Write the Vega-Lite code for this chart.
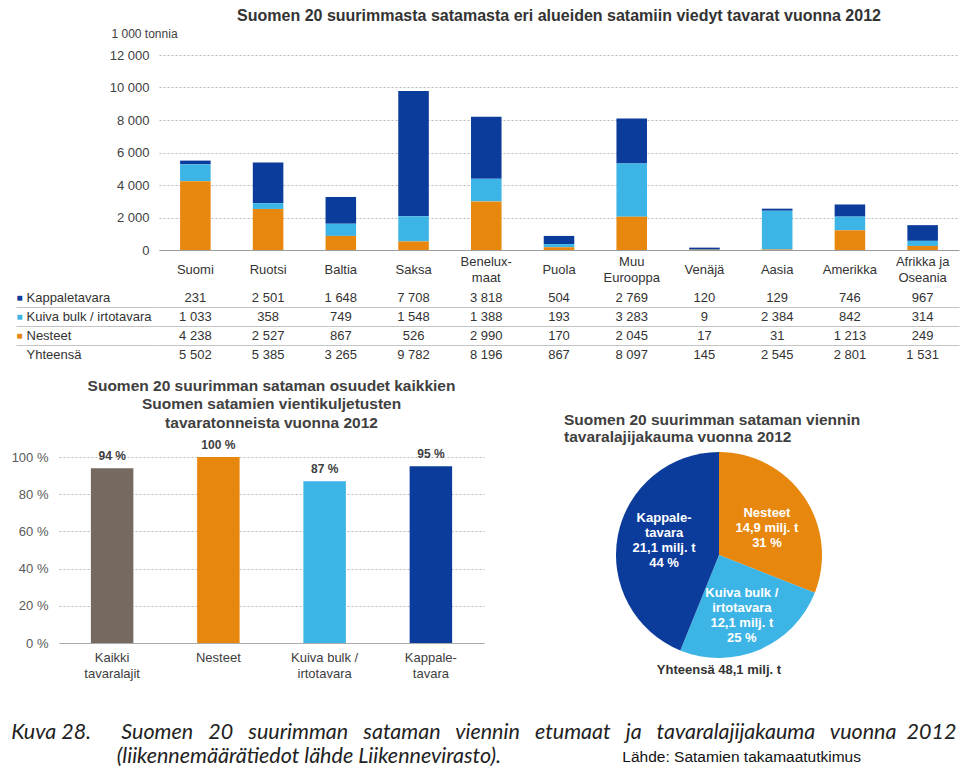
{
  "$schema": "https://vega.github.io/schema/vega-lite/v6.json",
  "background": "white",
  "padding": {"left": 11, "top": 8, "right": 2, "bottom": 2},
  "config": {
    "locale": {"number": {"decimal": ",", "thousands": "\u00a0", "grouping": [3], "currency": ["", "\u00a0€"], "percent": "\u00a0%"}},
    "view": {"stroke": null},
    "font": "Liberation Sans",
    "axis": {"labelColor": "#404040"},
    "title": {"color": "#333333"}
  },
  "datasets": {
    "viennit": [
      {"alue": "Suomi", "laji": "Kappaletavara", "arvo": 231},
      {"alue": "Ruotsi", "laji": "Kappaletavara", "arvo": 2501},
      {"alue": "Baltia", "laji": "Kappaletavara", "arvo": 1648},
      {"alue": "Saksa", "laji": "Kappaletavara", "arvo": 7708},
      {"alue": "Benelux-maat", "laji": "Kappaletavara", "arvo": 3818},
      {"alue": "Puola", "laji": "Kappaletavara", "arvo": 504},
      {"alue": "Muu Eurooppa", "laji": "Kappaletavara", "arvo": 2769},
      {"alue": "Venäjä", "laji": "Kappaletavara", "arvo": 120},
      {"alue": "Aasia", "laji": "Kappaletavara", "arvo": 129},
      {"alue": "Amerikka", "laji": "Kappaletavara", "arvo": 746},
      {"alue": "Afrikka ja Oseania", "laji": "Kappaletavara", "arvo": 967},
      {"alue": "Suomi", "laji": "Kuiva bulk / irtotavara", "arvo": 1033},
      {"alue": "Ruotsi", "laji": "Kuiva bulk / irtotavara", "arvo": 358},
      {"alue": "Baltia", "laji": "Kuiva bulk / irtotavara", "arvo": 749},
      {"alue": "Saksa", "laji": "Kuiva bulk / irtotavara", "arvo": 1548},
      {"alue": "Benelux-maat", "laji": "Kuiva bulk / irtotavara", "arvo": 1388},
      {"alue": "Puola", "laji": "Kuiva bulk / irtotavara", "arvo": 193},
      {"alue": "Muu Eurooppa", "laji": "Kuiva bulk / irtotavara", "arvo": 3283},
      {"alue": "Venäjä", "laji": "Kuiva bulk / irtotavara", "arvo": 9},
      {"alue": "Aasia", "laji": "Kuiva bulk / irtotavara", "arvo": 2384},
      {"alue": "Amerikka", "laji": "Kuiva bulk / irtotavara", "arvo": 842},
      {"alue": "Afrikka ja Oseania", "laji": "Kuiva bulk / irtotavara", "arvo": 314},
      {"alue": "Suomi", "laji": "Nesteet", "arvo": 4238},
      {"alue": "Ruotsi", "laji": "Nesteet", "arvo": 2527},
      {"alue": "Baltia", "laji": "Nesteet", "arvo": 867},
      {"alue": "Saksa", "laji": "Nesteet", "arvo": 526},
      {"alue": "Benelux-maat", "laji": "Nesteet", "arvo": 2990},
      {"alue": "Puola", "laji": "Nesteet", "arvo": 170},
      {"alue": "Muu Eurooppa", "laji": "Nesteet", "arvo": 2045},
      {"alue": "Venäjä", "laji": "Nesteet", "arvo": 17},
      {"alue": "Aasia", "laji": "Nesteet", "arvo": 31},
      {"alue": "Amerikka", "laji": "Nesteet", "arvo": 1213},
      {"alue": "Afrikka ja Oseania", "laji": "Nesteet", "arvo": 249},
      {"alue": "Suomi", "laji": "Yhteensä", "arvo": 5502},
      {"alue": "Ruotsi", "laji": "Yhteensä", "arvo": 5385},
      {"alue": "Baltia", "laji": "Yhteensä", "arvo": 3265},
      {"alue": "Saksa", "laji": "Yhteensä", "arvo": 9782},
      {"alue": "Benelux-maat", "laji": "Yhteensä", "arvo": 8196},
      {"alue": "Puola", "laji": "Yhteensä", "arvo": 867},
      {"alue": "Muu Eurooppa", "laji": "Yhteensä", "arvo": 8097},
      {"alue": "Venäjä", "laji": "Yhteensä", "arvo": 145},
      {"alue": "Aasia", "laji": "Yhteensä", "arvo": 2545},
      {"alue": "Amerikka", "laji": "Yhteensä", "arvo": 2801},
      {"alue": "Afrikka ja Oseania", "laji": "Yhteensä", "arvo": 1531}
    ],
    "alueet": [
      {"alue": "Suomi", "nimi": "Suomi"},
      {"alue": "Ruotsi", "nimi": "Ruotsi"},
      {"alue": "Baltia", "nimi": "Baltia"},
      {"alue": "Saksa", "nimi": "Saksa"},
      {"alue": "Benelux-maat", "nimi": "Benelux-\nmaat"},
      {"alue": "Puola", "nimi": "Puola"},
      {"alue": "Muu Eurooppa", "nimi": "Muu\nEurooppa"},
      {"alue": "Venäjä", "nimi": "Venäjä"},
      {"alue": "Aasia", "nimi": "Aasia"},
      {"alue": "Amerikka", "nimi": "Amerikka"},
      {"alue": "Afrikka ja Oseania", "nimi": "Afrikka ja\nOseania"}
    ],
    "osuudet": [
      {"laji": "Kaikki tavaralajit", "osuus": 0.94},
      {"laji": "Nesteet", "osuus": 1.0},
      {"laji": "Kuiva bulk / irtotavara", "osuus": 0.87},
      {"laji": "Kappaletavara", "osuus": 0.95}
    ],
    "jakauma": [
      {"laji": "Nesteet", "milj": 14.9, "teksti": "Nesteet\n14,9 milj. t\n31 %"},
      {"laji": "Kuiva bulk / irtotavara", "milj": 12.1, "teksti": "Kuiva bulk /\nirtotavara\n12,1 milj. t\n25 %"},
      {"laji": "Kappaletavara", "milj": 21.1, "teksti": "Kappale-\ntavara\n21,1 milj. t\n44 %"}
    ]
  },
  "title": {"text": "Lähde: Satamien takamaatutkimus", "orient": "bottom", "anchor": "end", "frame": "bounds", "dx": -98, "dy": -18, "offset": 0, "font": "Liberation Sans", "fontSize": 15.5, "fontWeight": "normal", "color": "#111111"},
  "spacing": 14,
  "vconcat": [
    {
      "spacing": 0,
      "bounds": "flush",
      "hconcat": [
        {
          "width": 100,
          "height": 1,
          "data": {"values": [{"tyhja": 1}]},
          "mark": {"type": "point", "opacity": 0}
        },
        {
          "spacing": 0,
          "bounds": "flush",
          "vconcat": [
            {
              "width": 800,
              "height": 195,
              "title": {"text": "Suomen 20 suurimmasta satamasta eri alueiden satamiin viedyt  tavarat vuonna 2012", "font": "Liberation Sans", "fontSize": 16, "fontWeight": "bold", "color": "#333333", "offset": 3},
              "data": {"name": "viennit"},
              "transform": [{"filter": "datum.laji !== 'Yhteensä'"}],
              "mark": {"type": "bar"},
              "encoding": {
                "x": {"field": "alue", "type": "nominal", "sort": ["Suomi", "Ruotsi", "Baltia", "Saksa", "Benelux-maat", "Puola", "Muu Eurooppa", "Venäjä", "Aasia", "Amerikka", "Afrikka ja Oseania"], "scale": {"paddingInner": 0.58, "paddingOuter": 0.29}, "axis": {"title": null, "labels": false, "ticks": false, "domainColor": "#9a9a9a"}},
                "y": {"field": "arvo", "type": "quantitative", "stack": "zero", "scale": {"domain": [0, 12000], "nice": false}, "axis": {"values": [0, 2000, 4000, 6000, 8000, 10000, 12000], "format": ",d", "domain": false, "ticks": false, "gridColor": "#b8b8b8", "gridDash": [2, 2], "labelFontSize": 13, "labelPadding": 10, "labelColor": "#404040", "title": "1 000 tonnia", "titleAngle": 0, "titleAlign": "left", "titleBaseline": "middle", "titleX": -48, "titleY": -22, "titleFontSize": 12, "titleFontWeight": "normal", "titleColor": "#404040"}},
                "color": {"field": "laji", "type": "nominal", "scale": {"domain": ["Kappaletavara", "Kuiva bulk / irtotavara", "Nesteet", "Kaikki tavaralajit"], "range": ["#0b3c9c", "#3cb4e5", "#e8870e", "#766a60"]}, "legend": null},
                "order": {"field": "laji", "sort": "descending"}
              }
            },
            {
              "width": 800,
              "height": 114,
              "resolve": {"axis": {"y": "independent"}},
              "layer": [
                {
                  "data": {"name": "viennit"},
                  "mark": {"type": "text", "fontSize": 13, "color": "#333333"},
                  "encoding": {
                    "x": {"field": "alue", "type": "nominal", "sort": ["Suomi", "Ruotsi", "Baltia", "Saksa", "Benelux-maat", "Puola", "Muu Eurooppa", "Venäjä", "Aasia", "Amerikka", "Afrikka ja Oseania"], "scale": {"paddingInner": 0, "paddingOuter": 0}, "axis": {"orient": "top", "title": null, "labels": false, "ticks": false, "domain": false, "grid": true, "tickOffset": 36.36, "gridDash": [], "gridColor": "#c4c4c4"}},
                    "y": {"field": "laji", "type": "nominal", "scale": {"domain": ["h1", "h2", "Kappaletavara", "Kuiva bulk / irtotavara", "Nesteet", "Yhteensä"], "paddingInner": 0, "paddingOuter": 0}, "axis": {"orient": "left", "title": null, "domain": false, "ticks": false, "grid": false, "labelAlign": "left", "labelPadding": 133, "labelExpr": "datum.value == 'h1' || datum.value == 'h2' ? '' : datum.value", "labelFontSize": 13, "labelColor": "#333333"}},
                    "text": {"field": "arvo", "type": "quantitative", "format": ",d"}
                  }
                },
                {
                  "data": {"name": "alueet"},
                  "transform": [{"filter": "indexof(datum.nimi, '\\n') < 0"}],
                  "mark": {"type": "text", "fontSize": 13, "color": "#333333", "baseline": "middle", "dy": 10},
                  "encoding": {
                    "x": {"field": "alue", "type": "nominal", "sort": ["Suomi", "Ruotsi", "Baltia", "Saksa", "Benelux-maat", "Puola", "Muu Eurooppa", "Venäjä", "Aasia", "Amerikka", "Afrikka ja Oseania"], "axis": null},
                    "y": {"datum": "h1", "type": "nominal", "axis": null},
                    "text": {"field": "nimi"}
                  }
                },
                {
                  "data": {"name": "alueet"},
                  "transform": [{"filter": "indexof(datum.nimi, '\\n') >= 0"}],
                  "mark": {"type": "text", "lineBreak": "\n", "lineHeight": 16, "fontSize": 13, "color": "#333333", "baseline": "middle", "dy": 2},
                  "encoding": {
                    "x": {"field": "alue", "type": "nominal", "sort": ["Suomi", "Ruotsi", "Baltia", "Saksa", "Benelux-maat", "Puola", "Muu Eurooppa", "Venäjä", "Aasia", "Amerikka", "Afrikka ja Oseania"], "axis": null},
                    "y": {"datum": "h1", "type": "nominal", "axis": null},
                    "text": {"field": "nimi"}
                  }
                },
                {
                  "data": {"name": "viennit"},
                  "mark": {"type": "text", "text": ""},
                  "encoding": {
                    "x": {"field": "alue", "type": "nominal", "sort": ["Suomi", "Ruotsi", "Baltia", "Saksa", "Benelux-maat", "Puola", "Muu Eurooppa", "Venäjä", "Aasia", "Amerikka", "Afrikka ja Oseania"], "axis": null},
                    "y": {"field": "laji", "type": "nominal", "axis": {"orient": "left", "title": null, "domain": false, "ticks": false, "grid": false, "labelAlign": "left", "labelPadding": 143, "labelFontSize": 10, "values": ["Kappaletavara", "Kuiva bulk / irtotavara", "Nesteet"], "labelExpr": "'■'", "labelColor": {"condition": [{"test": "datum.value == 'Kappaletavara'", "value": "#0b3c9c"}, {"test": "datum.value == 'Kuiva bulk / irtotavara'", "value": "#3cb4e5"}], "value": "#e8870e"}}}
                  }
                },
                {
                  "data": {"name": "viennit"},
                  "mark": {"type": "text", "text": ""},
                  "encoding": {
                    "x": {"field": "alue", "type": "nominal", "sort": ["Suomi", "Ruotsi", "Baltia", "Saksa", "Benelux-maat", "Puola", "Muu Eurooppa", "Venäjä", "Aasia", "Amerikka", "Afrikka ja Oseania"], "axis": null},
                    "y": {"field": "laji", "type": "nominal", "axis": {"orient": "left", "title": null, "domain": false, "labels": false, "values": ["Kuiva bulk / irtotavara", "Nesteet", "Yhteensä"], "ticks": true, "tickSize": 143, "tickOffset": -9.5, "tickColor": "#c4c4c4", "grid": true, "gridDash": [], "gridColor": "#c4c4c4"}}
                  }
                }
              ]
            }
          ]
        }
      ]
    },
    {
      "spacing": 80,
      "bounds": "flush",
      "title": {"text": ["Kuva 28.\u00a0\u00a0\u00a0\u00a0\u00a0\u00a0Suomen\u00a0\u00a0\u00a020\u00a0\u00a0\u00a0suurimman\u00a0\u00a0\u00a0sataman\u00a0\u00a0\u00a0viennin\u00a0\u00a0\u00a0etumaat\u00a0\u00a0\u00a0ja\u00a0\u00a0\u00a0tavaralajijakauma\u00a0\u00a0\u00a0vuonna\u00a0\u00a02012", "\u200b\u00a0\u00a0\u00a0\u00a0\u00a0\u00a0\u00a0\u00a0\u00a0\u00a0\u00a0\u00a0\u00a0\u00a0\u00a0\u00a0\u00a0\u00a0\u00a0\u00a0\u00a0(liikennemäärätiedot lähde Liikennevirasto)."], "orient": "bottom", "anchor": "start", "frame": "bounds", "font": "Lato", "fontStyle": "italic", "fontWeight": "normal", "fontSize": 21.5, "lineHeight": 24, "offset": 42, "color": "#222222"},
      "hconcat": [
        {
          "width": 425,
          "height": 186,
          "title": {"text": ["Suomen 20 suurimman sataman osuudet kaikkien", "Suomen satamien vientikuljetusten", "tavaratonneista vuonna 2012"], "font": "Liberation Sans", "fontSize": 15.5, "fontWeight": "bold", "lineHeight": 18.5, "offset": 8, "color": "#404040"},
          "data": {"name": "osuudet"},
          "encoding": {
            "x": {"field": "laji", "type": "nominal", "sort": null, "scale": {"paddingInner": 0.6, "paddingOuter": 0.3}, "axis": {"title": null, "labelAngle": 0, "ticks": false, "domainColor": "#aaaaaa", "labelFontSize": 13, "labelColor": "#404040", "labelPadding": 8, "labelLineHeight": 16, "labelExpr": "datum.value == 'Kaikki tavaralajit' ? ['Kaikki', 'tavaralajit'] : datum.value == 'Kuiva bulk / irtotavara' ? ['Kuiva bulk /', 'irtotavara'] : datum.value == 'Kappaletavara' ? ['Kappale-', 'tavara'] : datum.value"}},
            "y": {"field": "osuus", "type": "quantitative", "scale": {"domain": [0, 1], "nice": false}, "axis": {"values": [0, 0.2, 0.4, 0.6, 0.8, 1], "format": ".0%", "title": null, "domain": false, "ticks": false, "gridDash": [2, 2], "gridColor": "#b8b8b8", "labelFontSize": 13, "labelPadding": 11, "labelColor": "#595959"}}
          },
          "layer": [
            {"mark": {"type": "bar"}, "encoding": {"color": {"field": "laji", "type": "nominal", "scale": {"domain": ["Kappaletavara", "Kuiva bulk / irtotavara", "Nesteet", "Kaikki tavaralajit"], "range": ["#0b3c9c", "#3cb4e5", "#e8870e", "#766a60"]}, "legend": null}}},
            {"mark": {"type": "text", "dy": -12, "fontWeight": "bold", "fontSize": 12, "color": "#404040"}, "encoding": {"text": {"field": "osuus", "type": "quantitative", "format": ".0%"}}}
          ]
        },
        {
          "title": {"text": ["Suomen 20 suurimman sataman viennin", "tavaralajijakauma vuonna 2012"], "font": "Liberation Sans", "fontSize": 15.5, "fontWeight": "bold", "lineHeight": 17, "offset": 7, "color": "#404040"},
          "vconcat": [
            {
              "width": 310,
              "height": 196,
              "title": {"text": "Yhteensä 48,1 milj. t", "orient": "bottom", "font": "Liberation Sans", "fontSize": 13, "fontWeight": "bold", "offset": 6, "color": "#333333"},
              "data": {"name": "jakauma"},
              "encoding": {
                "theta": {"field": "milj", "type": "quantitative", "stack": true},
                "order": {"field": "laji", "sort": "descending"}
              },
              "layer": [
                {"mark": {"type": "arc", "outerRadius": 103}, "encoding": {"color": {"field": "laji", "type": "nominal", "scale": {"domain": ["Kappaletavara", "Kuiva bulk / irtotavara", "Nesteet", "Kaikki tavaralajit"], "range": ["#0b3c9c", "#3cb4e5", "#e8870e", "#766a60"]}, "legend": null}}},
                {"mark": {"type": "text", "radius": 58, "dy": -9, "lineBreak": "\n", "lineHeight": 15, "fontSize": 13, "fontWeight": "bold", "color": "white", "baseline": "middle"}, "encoding": {"text": {"condition": {"test": "datum.laji == 'Nesteet'", "field": "teksti"}, "value": ""}}},
                {"mark": {"type": "text", "radius": 58, "dy": -15, "lineBreak": "\n", "lineHeight": 15, "fontSize": 13, "fontWeight": "bold", "color": "white", "baseline": "middle"}, "encoding": {"text": {"condition": {"test": "datum.laji == 'Kuiva bulk / irtotavara'", "field": "teksti"}, "value": ""}}},
                {"mark": {"type": "text", "radius": 56, "dy": -26, "lineBreak": "\n", "lineHeight": 15, "fontSize": 13, "fontWeight": "bold", "color": "white", "baseline": "middle"}, "encoding": {"text": {"condition": {"test": "datum.laji == 'Kappaletavara'", "field": "teksti"}, "value": ""}}}
              ]
            }
          ]
        }
      ]
    }
  ]
}
